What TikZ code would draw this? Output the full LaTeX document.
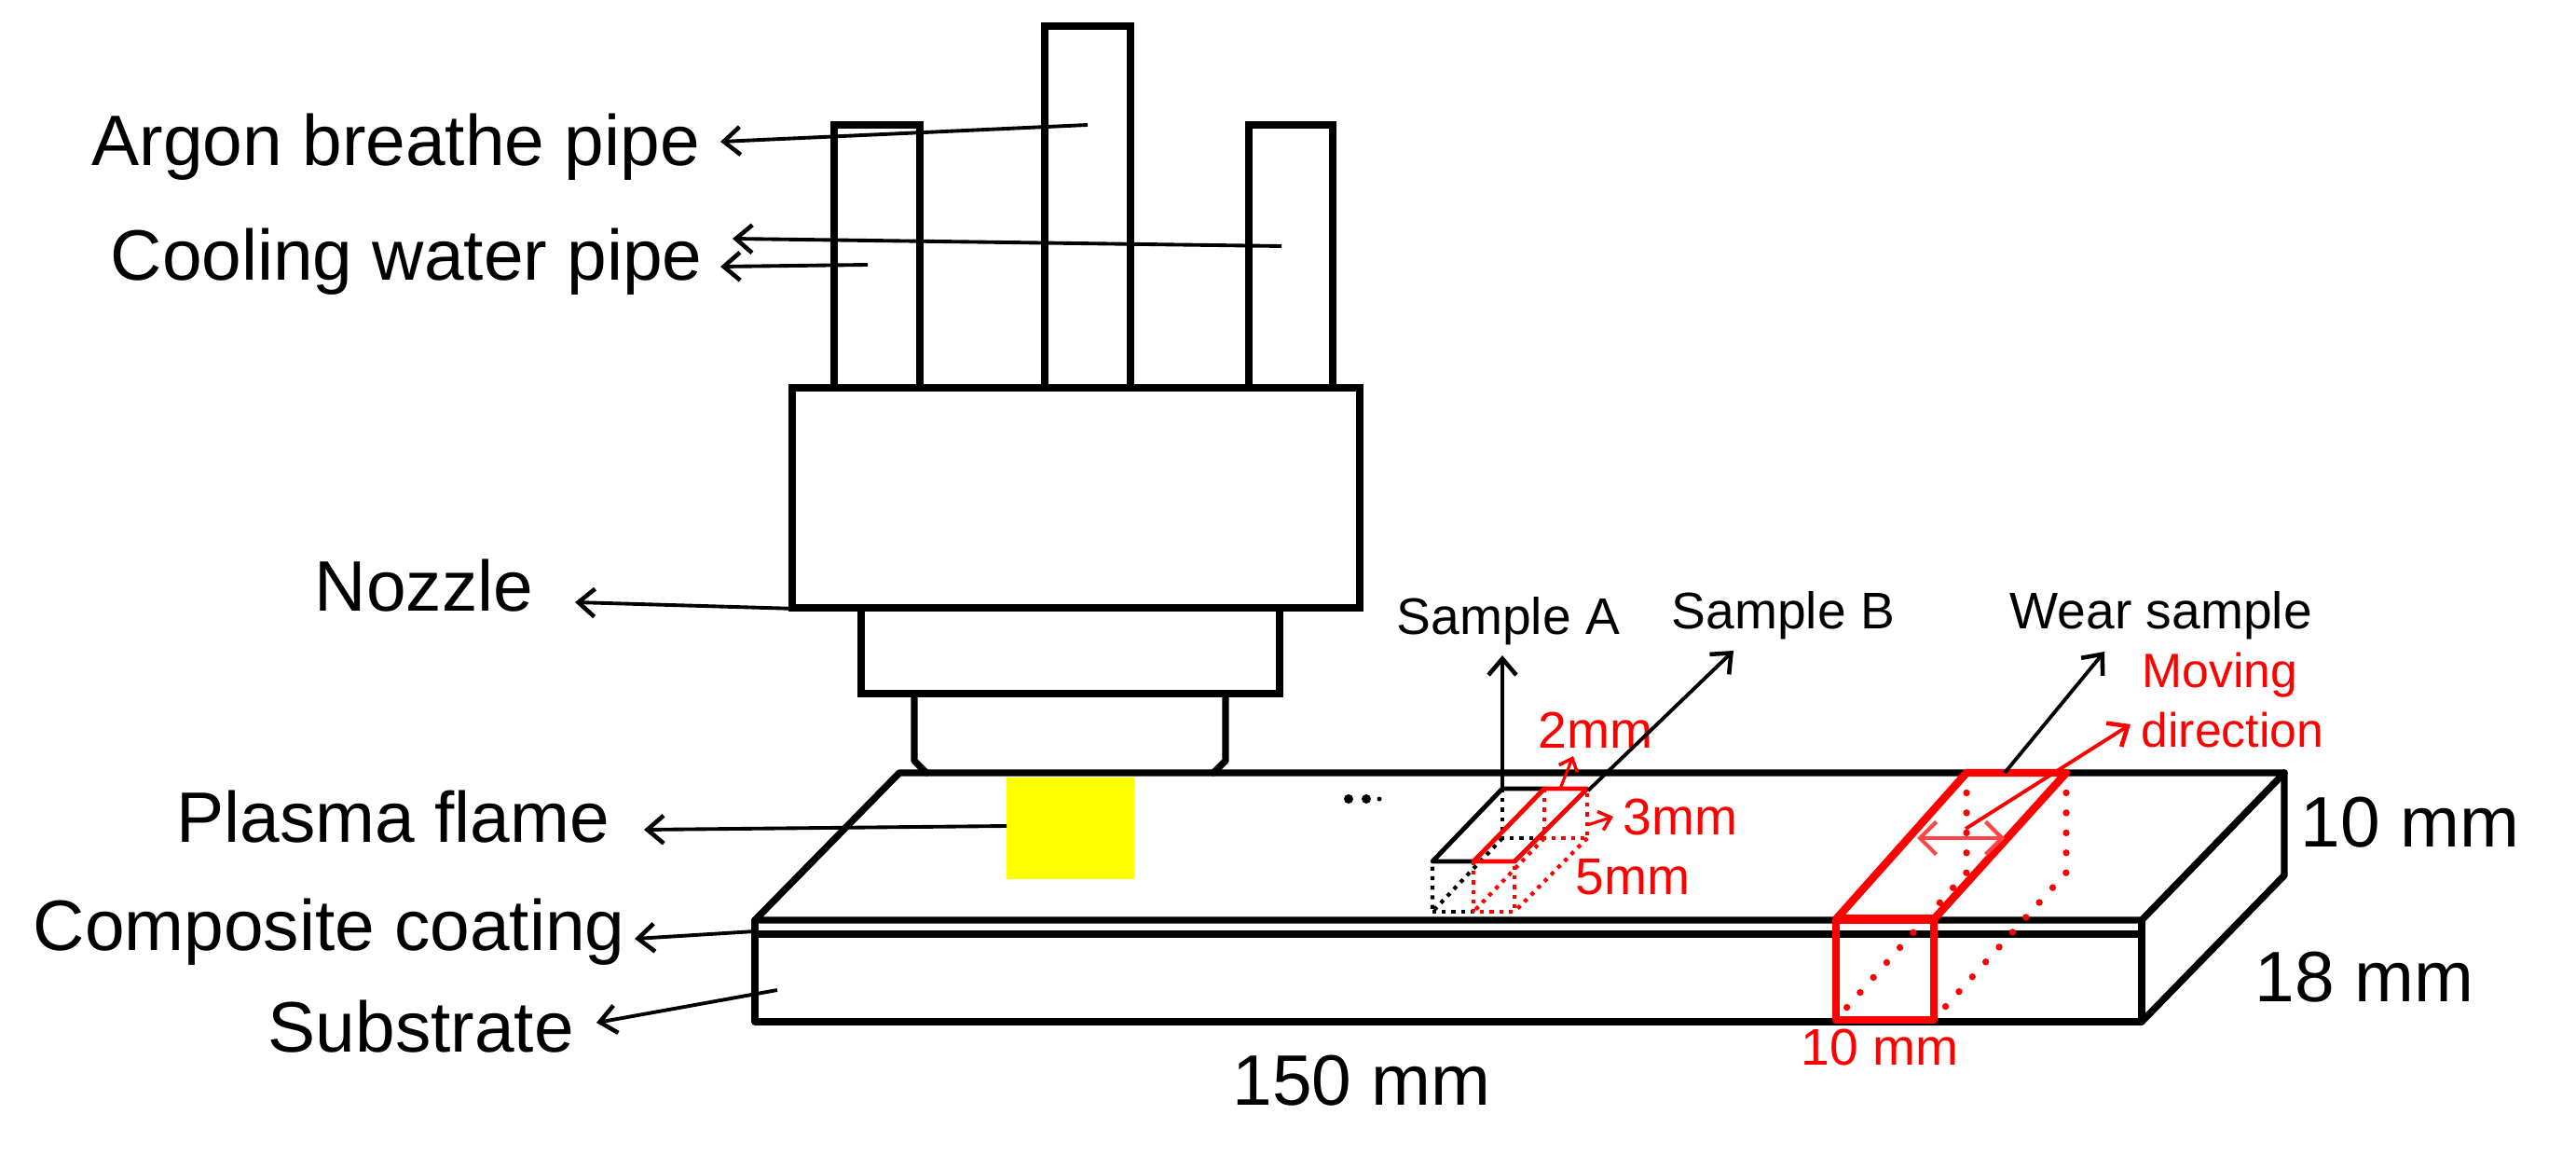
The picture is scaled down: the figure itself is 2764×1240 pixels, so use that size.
\documentclass[tikz,border=0pt]{standalone}
\usepackage{fontspec}
\setmainfont{Liberation Sans}
\usetikzlibrary{arrows.meta}
\definecolor{softred}{RGB}{255,70,70}
\definecolor{flame}{RGB}{255,255,0}
\definecolor{pure}{RGB}{255,0,0}
\tikzset{
  body/.style={draw=black,line width=2.1pt,line join=miter,fill=white},
  edge/.style={draw=black,line width=2.1pt,line join=round,line cap=round},
  lead/.style={draw=black,line width=1.1pt,-{Straight Barb[length=5pt,width=8.5pt,line width=1.3pt]}},
  redlead/.style={draw=pure,line width=1.1pt,-{Straight Barb[length=5pt,width=8.5pt,line width=1.3pt]}},
  smallredlead/.style={draw=pure,line width=.9pt,-{Straight Barb[length=3.4pt,width=6pt,line width=1pt]}},
  wearline/.style={draw=pure,line width=2.4pt,line join=round},
  weardots/.style={draw=pure,line width=2.1pt,line cap=round,dash pattern=on 0pt off 6.1pt},
  sampline/.style={line width=1.4pt,line join=round},
  sampdots/.style={line width=1.2pt,dash pattern=on 1.2pt off 1.7pt},
  biglabel/.style={anchor=base west,inner sep=0pt,font=\fontsize{21.8pt}{24pt}\selectfont},
  midlabel/.style={anchor=base west,inner sep=0pt,font=\fontsize{15.7pt}{18pt}\selectfont},
  movelabel/.style={anchor=base west,inner sep=0pt,text=pure,font=\fontsize{14.7pt}{17pt}\selectfont},
}
\begin{document}
\begin{tikzpicture}[x=0.01cm,y=-0.01cm]
\useasboundingbox (0,0) rectangle (2764,1240);
\fill[white] (0,0) rectangle (2764,1240);

% pipes and nozzle
\draw[body] (895,416) -- (895,134) -- (987,134) -- (987,416);
\draw[body] (1121,416) -- (1121,28) -- (1213,28) -- (1213,416);
\draw[body] (1340,416) -- (1340,134) -- (1430,134) -- (1430,416);
\draw[body] (850,416) rectangle (1459,652);
\draw[body] (924,652) rectangle (1373,744);
\draw[edge] (981,744) -- (981,816) -- (994,829);
\draw[edge] (1315,744) -- (1315,816) -- (1302,829);

% plate
\coordinate (bl) at (965,829);
\coordinate (br) at (2451,829);
\coordinate (fl) at (810,987);
\coordinate (fr) at (2298,987);
\draw[edge] (fl) -- (bl) -- (br) -- (fr) -- cycle;
\draw[edge] (810,1002) -- (2298,1002);
\draw[edge] (fl) -- (810,1096) -- (2298,1096) -- (fr);
\draw[edge] (br) -- (2451,939) -- (2298,1096);

% flame
\fill[flame] (1080,834) rectangle (1217,943);

% dots
\fill (1447,857) circle (5);
\fill (1466,857) circle (5);
\fill (1480,857) circle (2.5);

% sample A, black
\draw[sampline] (1581,924) -- (1537,924) -- (1612,846) -- (1657,846);
\draw[sampdots] (1612,846) -- (1612,899) -- (1657,899);
\draw[sampdots] (1612,899) -- (1537,978) -- (1537,924);
\draw[sampdots] (1537,978) -- (1581,978);
% sample B, red
\draw[sampline,pure] (1581,924) -- (1657,846) -- (1703,846) -- (1625,924) -- cycle;
\draw[sampdots,pure] (1657,846) -- (1657,899) -- (1703,899) -- (1703,846);
\draw[sampdots,pure] (1581,924) -- (1581,978) -- (1625,978) -- (1625,924);
\draw[sampdots,pure] (1657,899) -- (1581,978);
\draw[sampdots,pure] (1703,899) -- (1625,978);

% wear sample
\draw[weardots] (2110,829) -- (2110,936) -- (1975,1088);
\draw[weardots] (2217,829) -- (2217,936) -- (2080,1088);
\draw[wearline] (1970,986) rectangle (2075,1094);
\draw[wearline] (1970,986) -- (2110,829) -- (2217,829) -- (2075,986);
\draw[draw=pure,line width=3pt] (1970,986) -- (2075,986);

% labels
\node[biglabel] (argon) at (98,178) {Argon breathe pipe};
\node[biglabel] (cooling) at (118,301) {Cooling water pipe};
\node[biglabel] (nozzle) at (337,656) {Nozzle};
\node[biglabel] (plasma) at (189,903) {Plasma flame};
\node[biglabel] (coating) at (35,1019) {Composite coating};
\node[biglabel] (substrate) at (287,1128) {Substrate};
\node[biglabel] (len) at (1322,1185) {150 mm};
\node[biglabel] (thick) at (2468,908) {10 mm};
\node[biglabel] (wid) at (2419,1074) {18 mm};
\node[midlabel] (sa) at (1498,680) {Sample A};
\node[midlabel] (sb) at (1793,675) {Sample B};
\node[midlabel] (sw) at (2156,674) {Wear sample};
\node[midlabel,text=pure] (two) at (1650,802) {2mm};
\node[midlabel,text=pure] (three) at (1741,895) {3mm};
\node[midlabel,text=pure] (five) at (1690,959) {5mm};
\node[movelabel] (move1) at (2298,738) {Moving};
\node[movelabel] (move2) at (2297,801) {direction};
\node[midlabel,text=pure] (ten) at (1932,1142) {10 mm};

% leaders
\coordinate (argonT) at (1167,134);
\coordinate (argonH) at (773,152);
\coordinate (coolaT) at (1375,264);
\coordinate (coolaH) at (786,256);
\coordinate (coolbT) at (931,284);
\coordinate (coolbH) at (773,286);
\coordinate (nozT) at (890,654);
\coordinate (nozH) at (617,646);
\coordinate (plaT) at (1080,886);
\coordinate (plaH) at (691,890);
\coordinate (comT) at (810,999);
\coordinate (comH) at (681,1007);
\coordinate (subT) at (834,1062);
\coordinate (subH) at (640,1097);
\coordinate (saT) at (1612,846);
\coordinate (saH) at (1612,703);
\coordinate (sbT) at (1704,848);
\coordinate (sbH) at (1860,698);
\coordinate (swT) at (2151,829);
\coordinate (swH) at (2258,699);
\coordinate (movT) at (2109,889);
\coordinate (movH) at (2286,777);
\coordinate (twoT) at (1674,846);
\coordinate (twoH) at (1688,811);
\coordinate (thrT) at (1703,885);
\coordinate (thrH) at (1731,876);
\coordinate (wa) at (2057,899);
\coordinate (wb) at (2151,899);

\draw[lead] (argonT) -- (argonH);
\draw[lead] (coolaT) -- (coolaH);
\draw[lead] (coolbT) -- (coolbH);
\draw[lead] (nozT) -- (nozH);
\draw[lead] (plaT) -- (plaH);
\draw[lead] (comT) -- (comH);
\draw[lead] (subT) -- (subH);
\draw[lead,line width=1.3pt] (saT) -- (saH);
\draw[lead] (sbT) -- (sbH);
\draw[lead] (swT) -- (swH);
\draw[redlead] (movT) -- (movH);
\draw[smallredlead] (twoT) -- (twoH);
\draw[smallredlead] (thrT) -- (thrH);
\draw[draw=softred,line width=1.1pt,{Straight Barb[length=5pt,width=10pt,line width=1.2pt]}-{Straight Barb[length=5pt,width=10pt,line width=1.2pt]}] (wa) -- (wb);
\end{tikzpicture}
\end{document}
